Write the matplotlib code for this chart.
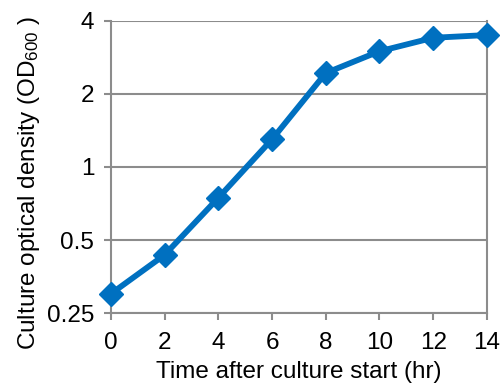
import matplotlib.pyplot as plt
from matplotlib.ticker import FixedLocator, FixedFormatter, NullLocator

# Data
hours = [0, 2, 4, 6, 8, 10, 12, 14]
od600 = [0.30, 0.434, 0.746, 1.30, 2.44, 3.00, 3.41, 3.50]
od_err = [0.008, 0.012, 0.03, 0.06, 0.09, 0.07, 0.08, 0.05]
y_ticks = [0.25, 0.5, 1, 2, 4]
y_tick_labels = ['0.25', '0.5', '1', '2', '4']
x_ticks = [0, 2, 4, 6, 8, 10, 12, 14]

plt.rcParams['font.family'] = ['Liberation Sans', 'DejaVu Sans']
plt.rcParams['mathtext.default'] = 'regular'

blue = '#0070C0'
grey = '#8c8c8c'

fig = plt.figure(figsize=(5.04, 3.92), dpi=100)
ax = fig.add_axes([0.220, 0.2015, 0.746, 0.745])

ax.errorbar(hours, od600, yerr=od_err, color=blue, lw=4.2, marker='D',
            markersize=12, capsize=5, capthick=1.5, elinewidth=1.5,
            clip_on=False, zorder=3)

ax.set_yscale('log', base=2)
ax.set_ylim(0.25, 4)
ax.set_xlim(0, 14)
ax.yaxis.set_major_locator(FixedLocator(y_ticks))
ax.yaxis.set_major_formatter(FixedFormatter(y_tick_labels))
ax.yaxis.set_minor_locator(NullLocator())
ax.set_xticks(x_ticks)

ax.grid(axis='y', color=grey, lw=1.5, zorder=0)
for side in ['left', 'bottom', 'right']:
    ax.spines[side].set_color(grey)
    ax.spines[side].set_linewidth(1.5)
ax.spines['top'].set_visible(False)

ax.tick_params(axis='both', which='major', direction='out', length=5,
               width=1.5, color=grey, labelsize=17.5)
ax.tick_params(axis='x', pad=9)
ax.tick_params(axis='y', pad=7)

ax.set_xlabel('Time after culture start (hr)', fontsize=17.5, labelpad=5)
ax.set_ylabel('Culture optical density (OD$_{600}$ )', fontsize=17.5)
ax.yaxis.set_label_coords(-0.183, 0.445)

plt.savefig('out.png', dpi=100)
